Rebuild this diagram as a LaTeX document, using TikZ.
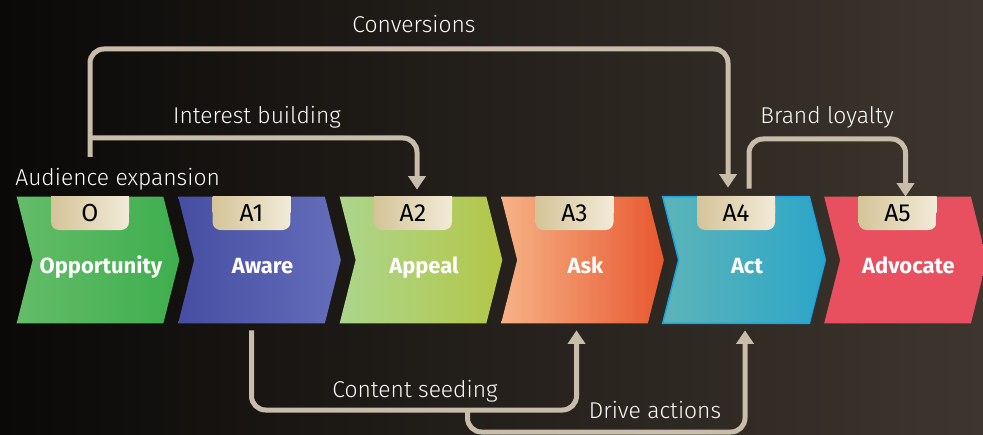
\documentclass[tikz,border=0pt]{standalone}
\usepackage{fontspec}
\setmainfont{Fira Sans}
\newfontfamily\ligera{Fira Sans}[UprightFont=* Light]
\usetikzlibrary{arrows.meta,calc}
\definecolor{fondoA}{RGB}{10,9,8}
\definecolor{fondoB}{RGB}{62,54,46}
\definecolor{linea}{RGB}{200,188,170}
\definecolor{tabL}{RGB}{212,196,152}
\definecolor{tabR}{RGB}{242,235,216}
\definecolor{c0L}{RGB}{100,188,104}
\definecolor{c0R}{RGB}{62,174,78}
\definecolor{c1L}{RGB}{70,78,162}
\definecolor{c1R}{RGB}{100,110,186}
\definecolor{c2L}{RGB}{172,214,140}
\definecolor{c2R}{RGB}{180,198,72}
\definecolor{c3L}{RGB}{246,178,134}
\definecolor{c3R}{RGB}{232,88,48}
\definecolor{c4L}{RGB}{92,180,184}
\definecolor{c4R}{RGB}{44,166,200}
\definecolor{c4B}{RGB}{30,160,225}
\definecolor{c5L}{RGB}{232,80,96}
\definecolor{c5R}{RGB}{232,80,96}
\begin{document}
\begin{tikzpicture}[x=0.02cm, y=-0.02cm,
    etapa/.style={minimum width=2.92cm, minimum height=2.52cm, inner sep=0pt},
    pestana/.style={minimum width=1.56cm, minimum height=0.66cm, inner sep=0pt,
      rounded corners=0.16cm, left color=tabL, right color=tabR,
      font=\fontsize{14}{16}\selectfont},
    rotulo/.style={text=white, font=\bfseries\fontsize{12.5}{15}\selectfont},
    texto/.style={text=white, inner sep=0pt, font=\ligera\fontsize{13}{16}\selectfont},
    flecha/.style={draw=linea, line width=0.1cm, rounded corners=0.28cm,
      -{Triangle[width=0.34cm,length=0.27cm]}}
  ]
  \useasboundingbox (0,0) rectangle (983,435);
  \clip (0,0) rectangle (983,435);
  \fill[left color=fondoA, right color=fondoB] (0,0) rectangle (983,435);

  % etapas
  \foreach \i/\tag/\nom/\cl/\cr/\borde in {0/O/Opportunity/c0L/c0R/none,
      1/A1/Aware/c1L/c1R/none, 2/A2/Appeal/c2L/c2R/none, 3/A3/Ask/c3L/c3R/none,
      4/A4/Act/c4L/c4R/c4B, 5/A5/Advocate/c5L/c5R/none} {
    \node[etapa] (s\i) at (90+161.5*\i,260) {};
    \path[left color=\cl, right color=\cr, draw=\borde, line width=0.03cm]
      (s\i.north west) -- (s\i.north east) -- ($(s\i.east)+(16,0)$)
      -- (s\i.south east) -- (s\i.south west) -- ($(s\i.west)+(16,0)$) -- cycle;
    \path[left color=tabL, right color=tabR]
      ($(s\i.north)+(-39,0)$) rectangle ($(s\i.north)+(39,16)$);
    \node[pestana, anchor=north] (t\i) at (s\i.north) {\tag};
    \node[rotulo, anchor=base] (n\i) at ($(s\i.center)+(11,14)$) {\nom};
  }

  % rotulos
  \node[texto, anchor=base west] (aud) at (15,186) {Audience expansion};
  \node[texto, anchor=base] (conv) at (414,33) {Conversions};
  \node[texto, anchor=base] (int) at (257,124) {Interest building};
  \node[texto, anchor=base] (brand) at (827,124) {Brand loyalty};
  \node[texto, anchor=base] (cont) at (415,397) {Content seeding};
  \node[texto, anchor=base] (drive) at (655,418) {Drive actions};

  \coordinate (src) at (90,157);
  \coordinate (arriba) at (0,49);
  \coordinate (medio) at (0,138);
  \coordinate (leal) at (0,139);
  \coordinate (abajo) at (0,410);
  \coordinate (fondo) at (0,432);
  \coordinate (b0) at ($(t4.north)+(13,-8)$);
  \coordinate (c0) at ($(s1.south)+(0,7)$);
  \coordinate (d0) at ($(s1.south)+(216,0)$);

  % conectores
  \draw[flecha] (src) -- (src |- arriba) -| ($(t4.north)+(-8,-9)$);
  \draw[flecha] (src |- medio) -| ($(t2.north)+(4,-7)$);
  \draw[flecha] (b0) -- (b0 |- leal) -| ($(t5.north)+(8,0)$);
  \draw[flecha] (c0) -- (c0 |- abajo) -| ($(s3.south)+(2,7)$);
  \draw[flecha] (d0 |- abajo) -- (d0 |- fondo) -| ($(s4.south)+(9,7)$);
\end{tikzpicture}
\end{document}
